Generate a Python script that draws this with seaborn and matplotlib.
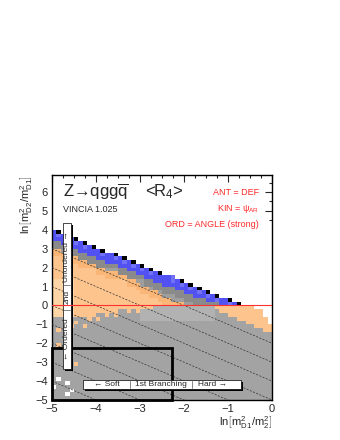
import numpy as np
import pandas as pd
import seaborn as sns
import matplotlib.pyplot as plt
from matplotlib.colors import ListedColormap
from matplotlib.patches import Rectangle

sns.set_style('white')
plt.rcParams['font.family'] = ['Liberation Sans', 'DejaVu Sans']
plt.rcParams['mathtext.fontset'] = 'custom'
plt.rcParams['mathtext.rm'] = 'Liberation Sans'
plt.rcParams['mathtext.it'] = 'Liberation Sans:italic'
plt.rcParams['mathtext.default'] = 'regular'

# binning of the 2D histogram
x_min, x_step, n_cols = -5.0, 0.1, 50
y_min, y_step, n_rows = -5.0, 0.2, 47

# per-column boundaries (x columns -5.0 ... -0.1)
top = [4.0, 4.0, 3.8, 3.8, 3.6, 3.6, 3.4, 3.4, 3.2, 3.2,
       3.0, 3.0, 2.8, 2.8, 2.8, 2.6, 2.6, 2.4, 2.4, 2.2,
       2.2, 2.0, 2.0, 1.8, 1.8, 1.6, 1.6, 1.6, 1.4, 1.4,
       1.2, 1.2, 1.0, 1.0, 0.8, 0.8, 0.6, 0.6, 0.4, 0.4,
       0.4, 0.2, 0.2, 0.0, 0.0, 0.0, 0.0, 0.0, 0.0, 0.0]
blue_lo = [3.4, 3.4, 3.2, 3.2, 3.0, 3.0, 2.8, 2.8, 2.6, 2.6,
           2.4, 2.4, 2.2, 2.2, 2.2, 2.0, 2.0, 1.8, 1.8, 1.6,
           1.6, 1.4, 1.4, 1.2, 1.2, 1.0, 1.0, 1.0, 0.8, 0.8,
           0.6, 0.6, 0.4, 0.4, 0.4, 0.2, 0.2, 0.2, 0.0, 0.0,
           0.0, 0.0, 0.0, 0.0, 0.0, 0.0, 0.0, 0.0, 0.0, 0.0]
orange_top = [3.0, 3.0, 2.8, 2.8, 2.6, 2.6, 2.4, 2.4, 2.2, 2.2,
              2.0, 2.0, 1.8, 1.8, 1.8, 1.6, 1.6, 1.4, 1.4, 1.2,
              1.0, 1.0, 0.8, 0.8, 0.6, 0.4, 0.4, 0.2, 0.2, 0.2,
              0.0, 0.0, 0.0, 0.0, 0.0, 0.0, 0.0, 0.0, 0.0, 0.0,
              0.0, 0.0, 0.0, 0.0, 0.0, 0.0, 0.0, 0.0, 0.0, 0.0]
orange_bot = [-0.6, -0.6, -0.6, -0.6, -0.6, -0.6, -0.6, -0.6, -0.6, -0.6,
              -0.4, -0.4, -0.4, -0.4, -0.4, -0.2, -0.2, -0.2, -0.2, -0.2,
              -0.2, -0.2, -0.2, 0.0, 0.0, 0.0, 0.0, 0.0, 0.0, 0.0,
              0.0, 0.0, 0.0, 0.0, 0.0, 0.0, 0.0, 0.0, 0.0, 0.0,
              0.0, 0.0, 0.0, 0.0, 0.0, 0.0, 0.0, 0.0, 0.0, 0.0]
# hard region below zero (lower right corner)
orange2_lo = [0.0] * 37 + [-0.2, -0.4, -0.4, -0.6, -0.6, -0.8, -0.8,
                           -1.0, -1.0, -1.2, -1.2, -1.4, -1.4]
white_lo = [0.0] * 46 + [-0.2, -0.2, -0.6, -1.0]

# isolated cells (x, y) in the lower left
orange_spot_x = [-4.85, -4.55, -4.45, -4.15, -3.95, -3.75, -3.55, -3.25, -4.85, -4.45, -3.05, -4.25]
orange_spot_y = [-1.3, -1.0, -0.8, -0.7, -0.7, -0.5, -0.5, -0.3, -2.1, -3.1, -0.3, -1.1]
white_spot_x = [-4.82, -4.93, -4.66, -4.57, -4.66]
white_spot_y = [-3.84, -4.30, -4.16, -4.42, -4.68]

colors = ['#ffffff', '#000000', '#5252f2', '#7272f6', '#8a8a8a', '#9e9e9e',
          '#a3a3a3', '#b2b2b2', '#f9b676', '#fdc48e', '#fed5a6']
WHITE, BLACK, BLUE, BLUE_L, GRAY_D, GRAY_M, GRAY, GRAY_L, OR_D, OR, OR_L = range(11)

grid = np.full((n_rows, n_cols), GRAY)
for i in range(n_cols):
    xc = x_min + (i + 0.5) * x_step
    cap = i + 1 < n_cols and top[i + 1] < top[i]
    for j in range(n_rows):
        y = round(y_min + j * y_step, 2)
        if y >= top[i]:
            c = WHITE
        elif y + y_step >= top[i] and cap:
            c = BLACK
        elif y >= blue_lo[i]:
            c = BLUE if y + 2 * y_step < top[i] or not cap else BLUE_L
        elif y >= orange_top[i] and y >= 0:
            c = GRAY_D if y >= blue_lo[i] - 0.4 else GRAY_M
        elif y >= orange_bot[i]:
            if y >= orange_top[i] - 0.4:
                c = OR_D
            elif xc < -4.5 and y < 1.4:
                c = OR_L
            else:
                c = OR
        elif y >= white_lo[i]:
            c = WHITE
        elif y >= orange2_lo[i]:
            c = OR
        elif y >= -0.8 and -3.0 < xc < -1.3:
            c = GRAY_L
        else:
            c = GRAY
        grid[j, i] = c

for xs, ys in zip(orange_spot_x, orange_spot_y):
    grid[int((ys - y_min) // y_step), int((xs - x_min) // x_step)] = OR
for xs, ys in zip(white_spot_x, white_spot_y):
    grid[int((ys - y_min) // y_step), int((xs - x_min) // x_step)] = WHITE

df = pd.DataFrame(grid)


def X(x):
    return (x - x_min) / x_step


def Y(y):
    return (y - y_min) / y_step


fig = plt.figure(figsize=(3.4, 4.4), dpi=100)
ax = fig.add_axes([52 / 340, 1 - 400 / 440, 220 / 340, 225 / 440])
sns.heatmap(df, ax=ax, cmap=ListedColormap(colors), vmin=-0.5, vmax=len(colors) - 0.5,
            cbar=False, xticklabels=False, yticklabels=False)
ax.set_xlim(X(-5), X(0))
ax.set_ylim(Y(-5), Y(6.9))
for s in ax.spines.values():
    s.set_visible(True)
    s.set_color('black')
    s.set_linewidth(1.0)

# dotted contour lines
for c in [3, 2, 1, 0, -1, -2, -3, -4]:
    xs = np.array([-5.0, 0.0])
    ys = c - (xs + 5)
    ax.plot(X(xs), Y(ys), color='#333333', lw=0.5, ls=(0, (3, 2)), zorder=3)

# ticks
ax.set_xticks([X(v) for v in range(-5, 1)])
ax.set_xticklabels([str(v).replace('-', '\u2212') for v in range(-5, 1)])
ax.set_xticks([X(v) for v in np.arange(-5, 0.01, 0.25)], minor=True)
ax.set_yticks([Y(v) for v in range(-5, 7)])
ax.set_yticklabels([str(v).replace('-', '\u2212') for v in range(-5, 7)])
ax.set_yticks([Y(v) for v in np.arange(-5, 6.9, 0.5)], minor=True)
ax.tick_params(which='both', direction='in', top=True, right=True, labelsize=8,
               width=0.8, pad=3)
ax.tick_params(which='major', length=5)
ax.tick_params(which='minor', length=2.5)

# red line at zero
ax.plot([X(-5), X(0)], [Y(0), Y(0)], color='#ff3030', lw=0.8, zorder=6)

# soft region box
ax.add_patch(Rectangle((X(-5), Y(-5)), X(-2.27) - X(-5), Y(-2.27) - Y(-5),
                       fill=False, ec='black', lw=2, zorder=4, clip_on=False))

# vertical label box
px, py = 1 / 44 / x_step, 1 / 19 / y_step
ax.add_patch(Rectangle((X(-4.757) + 2 * px, Y(-3.37) - 2 * py), X(-4.575) - X(-4.757),
                       Y(4.37) - Y(-3.37), fc='black', ec='none', zorder=5))
ax.add_patch(Rectangle((X(-4.757), Y(-3.37)), X(-4.575) - X(-4.757),
                       Y(4.37) - Y(-3.37), fc='white', ec='black', lw=0.5, zorder=5))
vx = X(-4.666)
ax.text(vx, Y(2.6), 'Unordered \u2192', rotation=90, ha='center', va='center', fontsize=6, zorder=7)
ax.text(vx, Y(0.45), '2nd', rotation=90, ha='center', va='center', fontsize=6, zorder=7)
ax.text(vx, Y(-1.8), '\u2190 Ordered', rotation=90, ha='center', va='center', fontsize=6, zorder=7)
for ys in [1.1, -0.25]:
    ax.plot([X(-4.74), X(-4.59)], [Y(ys), Y(ys)], color='#555555', lw=0.5, zorder=7)

# horizontal label box
ax.add_patch(Rectangle((X(-4.30) + 2 * px, Y(-4.42) - 2 * py), X(-0.705) - X(-4.30),
                       Y(-3.95) - Y(-4.42), fc='black', ec='none', zorder=5))
ax.add_patch(Rectangle((X(-4.30), Y(-4.42)), X(-0.705) - X(-4.30),
                       Y(-3.95) - Y(-4.42), fc='white', ec='black', lw=0.5, zorder=5))
hy = Y(-4.185)
ax.text(X(-3.75), hy, '\u2190 Soft', ha='center', va='center', fontsize=6, zorder=7)
ax.text(X(-2.52), hy, '1st Branching', ha='center', va='center', fontsize=6, zorder=7)
ax.text(X(-1.36), hy, 'Hard \u2192', ha='center', va='center', fontsize=6, zorder=7)
for xs in [-3.23, -1.82]:
    ax.plot([X(xs), X(xs)], [Y(-4.38), Y(-3.99)], color='#555555', lw=0.5, zorder=7)

# titles and settings
ax.text(X(-4.75), Y(6.0), 'Z\u2192qgg' + r'$\overline{q}$', fontsize=12, ha='left', va='center')
ax.text(X(-2.89), Y(6.0), r'<R$_4$>', fontsize=12, ha='left', va='center')
ax.text(X(-4.75), Y(5.1), 'VINCIA 1.025', fontsize=6.5, ha='left', va='center')
red = '#ff2a2a'
ax.text(X(-0.3), Y(5.95), 'ANT = DEF', fontsize=6.5, color=red, ha='right', va='center')
ax.text(X(-0.3), Y(5.1), r'KIN = $\psi_{AR}$', fontsize=6.5, color=red, ha='right', va='center')
ax.text(X(-0.3), Y(4.3), 'ORD = ANGLE (strong)', fontsize=6.5, color=red, ha='right', va='center')

fig.text(27 / 340, 1 - 175 / 440, r'ln$\left[m^2_{D2}/m^2_{D1}\right]$', rotation=90,
         ha='center', va='top', fontsize=8)
fig.text(272 / 340, 1 - 414 / 440, r'ln$\left[m^2_{D1}/m^2_{2}\right]$',
         ha='right', va='top', fontsize=8)

fig.savefig('out.png', dpi=100)
